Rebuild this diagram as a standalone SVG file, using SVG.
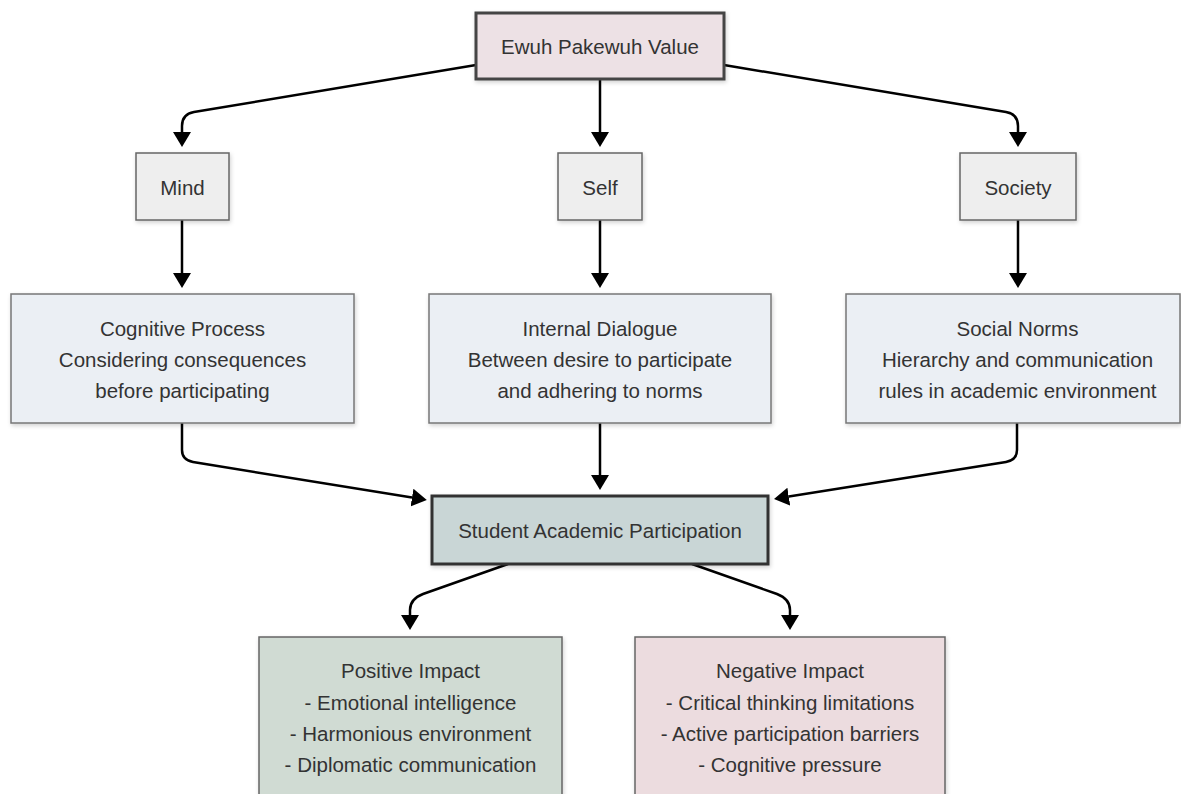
<svg xmlns="http://www.w3.org/2000/svg" width="1181" height="794" viewBox="0 0 1181 794">
<defs>
<filter id="sh" x="-10%" y="-10%" width="120%" height="130%">
<feDropShadow dx="1" dy="2" stdDeviation="2" flood-color="#000" flood-opacity="0.18"/>
</filter>
<marker id="ah" viewBox="0 0 10 10" refX="0" refY="5" markerWidth="15" markerHeight="18" markerUnits="userSpaceOnUse" orient="auto" preserveAspectRatio="none">
<path d="M0,0 L10,5 L0,10 z" fill="#000"/>
</marker>
<style>
.t{font-family:"Liberation Sans",Arial,sans-serif;font-size:20.5px;fill:#333;text-anchor:middle;dominant-baseline:central}
.box{filter:url(#sh)}
.edge{fill:none;stroke:#000;stroke-width:2.5;marker-end:url(#ah)}
</style>
</defs>
<rect width="1181" height="794" fill="#fff"/>
<g id="connectors">
<path class="edge" d="M476,65 L194,112 Q182,114 182,126 L182,132"/>
<path class="edge" d="M600,79 L600,132"/>
<path class="edge" d="M724,65 L1006,112 Q1018,114 1018,126 L1018,132"/>
<path class="edge" d="M182,220 L182,273"/>
<path class="edge" d="M600,220 L600,273"/>
<path class="edge" d="M1018,220 L1018,273"/>
<path class="edge" d="M182,423 L182,450 Q182,460 193,462 L412,497.6"/>
<path class="edge" d="M600,423 L600,475"/>
<path class="edge" d="M1017,423 L1017,450 Q1017,460 1006,462 L788.8,496.6"/>
<path class="edge" d="M508,564 L423,594 Q410,599 410,610 L410,615"/>
<path class="edge" d="M692,564 L777,594 Q790,599 790,610 L790,615"/>
</g>
<g id="ewuh">
<rect class="box" x="476" y="13" width="248" height="66" fill="#ede1e5" stroke="#444" stroke-width="3"/>
<text class="t" x="600" y="46">Ewuh Pakewuh Value</text>
</g>
<g id="mind">
<rect class="box" x="136" y="153" width="93" height="67" fill="#eeeeee" stroke="#666" stroke-width="1.5"/>
<text class="t" x="182.5" y="187">Mind</text>
</g>
<g id="self">
<rect class="box" x="558" y="153" width="84" height="67" fill="#eeeeee" stroke="#666" stroke-width="1.5"/>
<text class="t" x="600" y="187">Self</text>
</g>
<g id="society">
<rect class="box" x="960" y="153" width="116" height="67" fill="#eeeeee" stroke="#666" stroke-width="1.5"/>
<text class="t" x="1018" y="187">Society</text>
</g>
<g id="cognitive">
<rect class="box" x="11" y="294" width="343" height="129" fill="#ebeff4" stroke="#777" stroke-width="1.5"/>
<text class="t" x="182.5" y="328">Cognitive Process</text>
<text class="t" x="182.5" y="359">Considering consequences</text>
<text class="t" x="182.5" y="390">before participating</text>
</g>
<g id="internal">
<rect class="box" x="429" y="294" width="342" height="129" fill="#ebeff4" stroke="#777" stroke-width="1.5"/>
<text class="t" x="600" y="328">Internal Dialogue</text>
<text class="t" x="600" y="359">Between desire to participate</text>
<text class="t" x="600" y="390">and adhering to norms</text>
</g>
<g id="social">
<rect class="box" x="846" y="294" width="334" height="129" fill="#ebeff4" stroke="#777" stroke-width="1.5"/>
<text class="t" x="1017.5" y="328">Social Norms</text>
<text class="t" x="1017.5" y="359">Hierarchy and communication</text>
<text class="t" x="1017.5" y="390">rules in academic environment</text>
</g>
<g id="student">
<rect class="box" x="432" y="496" width="336" height="68" fill="#c9d6d6" stroke="#333" stroke-width="3"/>
<text class="t" x="600" y="530">Student Academic Participation</text>
</g>
<g id="positive">
<rect class="box" x="259" y="637" width="303" height="170" fill="#d0dbd3" stroke="#666" stroke-width="1.5"/>
<text class="t" x="410.5" y="670">Positive Impact</text>
<text class="t" x="410.5" y="702">- Emotional intelligence</text>
<text class="t" x="410.5" y="733">- Harmonious environment</text>
<text class="t" x="410.5" y="764">- Diplomatic communication</text>
</g>
<g id="negative">
<rect class="box" x="635" y="637" width="310" height="170" fill="#ecdcdf" stroke="#666" stroke-width="1.5"/>
<text class="t" x="790" y="670">Negative Impact</text>
<text class="t" x="790" y="702">- Critical thinking limitations</text>
<text class="t" x="790" y="733">- Active participation barriers</text>
<text class="t" x="790" y="764">- Cognitive pressure</text>
</g>
</svg>
